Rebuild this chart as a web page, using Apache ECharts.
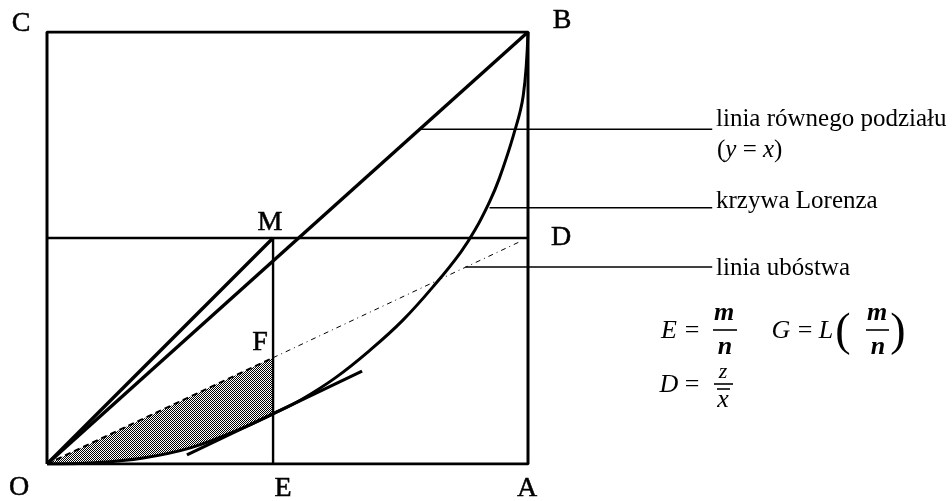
<!DOCTYPE html>
<html>
<head>
<meta charset="utf-8">
<script src="https://cdn.jsdelivr.net/npm/echarts@6/dist/echarts.min.js"></script>
<style>
html, body { margin: 0; padding: 0; background: #fff; }
#chart { width: 952px; height: 501px; }
</style>
</head>
<body>
<div id="chart"></div>
<script>
// krzywa Lorenza (udzialy 0..1)
var lorenzX = [0, 0.1, 0.2, 0.3, 0.4, 0.47, 0.53, 0.6, 0.67, 0.74, 0.81, 0.86, 0.89, 0.92, 0.94, 0.97, 0.99, 1];
var lorenzY = [0, 0.003, 0.014, 0.038, 0.08, 0.116, 0.15, 0.2, 0.262, 0.333, 0.42, 0.49, 0.542, 0.607, 0.66, 0.762, 0.852, 1];
var pointE = 0.47;          // E = m/n
var levelD = 0.523;         // D = z / x sr.
var pointF = 0.246;         // F na linii ubostwa
var povertyEnd = [0.98, 0.513];
var tangentStart = [0.291, 0.021];
var tangentEnd = [0.655, 0.215];
var leaderEnd = 1.383;
var leaderRows = [[0.775, 0.775], [0.92, 0.593], [0.87, 0.456]];
var xMax = 1.4;

var chart = echarts.init(document.getElementById('chart'));

function pts(xs, ys) {
    var out = [];
    for (var i = 0; i < xs.length; i++) out.push([xs[i], ys[i]]);
    return out;
}

// kropkowany wzor pola O-F-G
var pat = document.createElement('canvas');
pat.width = 2; pat.height = 2;
var pc = pat.getContext('2d');
pc.fillStyle = '#fff'; pc.fillRect(0, 0, 2, 2);
pc.fillStyle = '#000'; pc.fillRect(0, 0, 1, 1); pc.fillRect(1, 1, 1, 1);

function seg(data, width, type, extra) {
    var s = {
        type: 'line', data: data, symbol: 'none', silent: true,
        lineStyle: { color: '#000', width: width, type: type || 'solid' }
    };
    for (var k in extra) s[k] = extra[k];
    return s;
}

var series = [
    // pole pod OF wypelnione wzorem, potem zakryte biela pod krzywa
    seg([[0, 0], [pointE, pointF]], 0, 'solid', { areaStyle: { color: { image: pat, repeat: 'repeat' }, opacity: 1 } }),
    seg(pts(lorenzX, lorenzY), 0, 'solid', { smooth: 0.4, areaStyle: { color: '#fff', opacity: 1 } }),
    // kwadrat OACB
    seg([[0, 0], [1, 0], [1, 1], [0, 1], [0, 0]], 3),
    seg([[0, levelD], [1, levelD]], 2.4),
    seg([[pointE, 0], [pointE, levelD]], 2.4),
    seg([[0, 0], [1, 1]], 3.4),
    seg([[0, 0], [pointE, levelD]], 3.4),
    seg([[0, 0], [pointE, pointF]], 2, [6, 4]),
    seg([[pointE, pointF], povertyEnd], 1, [5, 4, 1, 4]),
    seg([tangentStart, tangentEnd], 3.2),
    seg(pts(lorenzX, lorenzY), 3, 'solid', { smooth: 0.4 })
];
leaderRows.forEach(function (r) {
    series.push(seg([[r[0], r[1]], [leaderEnd, r[1]]], 1.4));
});

var serif = 'Liberation Serif, Times New Roman, serif';
function txt(t, x, y, size, style, weight, heavy) {
    var s = {
        text: t, fill: '#000',
        align: 'center', verticalAlign: 'middle',
        textAlign: 'center', textVerticalAlign: 'middle',
        font: (style || 'normal') + ' ' + (weight || 'normal') + ' ' + size + 'px ' + serif
    };
    if (heavy) { s.stroke = '#000'; s.lineWidth = heavy; }
    return { type: 'text', x: x, y: y, silent: true, style: s };
}
function ltxt(t, x, y, size) {
    var g = txt(t, x, y, size);
    g.style.align = 'left'; g.style.textAlign = 'left';
    g.style.rich = { i: { fontStyle: 'italic', fontSize: size, fontFamily: serif } };
    return g;
}
function bar(x1, y, x2) {
    return { type: 'line', silent: true, shape: { x1: x1, y1: y, x2: x2, y2: y }, style: { stroke: '#000', lineWidth: 1.6 } };
}

var graphics = [
    txt('C', 21, 24, 28, 0, 0, 0.5), txt('B', 562, 21, 28, 0, 0, 0.5), txt('M', 270, 223, 28, 0, 0, 0.5),
    txt('D', 561, 238, 28, 0, 0, 0.5), txt('F', 260, 343, 28, 0, 0, 0.5), txt('G', 293, 427, 28, 0, 0, 0.5),
    txt('O', 19, 488, 28, 0, 0, 0.5), txt('E', 283, 489, 28, 0, 0, 0.5), txt('A', 527, 489, 28, 0, 0, 0.5),
    ltxt('linia równego podziału', 716, 119, 25),
    ltxt('({i|y} = {i|x})', 717, 150, 25),
    ltxt('krzywa Lorenza', 716, 201, 25),
    ltxt('linia ubóstwa', 716, 268, 25),
    txt('E', 669, 331, 26, 'italic'), txt('=', 692, 331, 26),
    txt('m', 724, 313, 26, 'italic', 'bold'), bar(713, 330, 737), txt('n', 725, 347, 26, 'italic', 'bold'),
    txt('G', 781, 331, 26, 'italic'), txt('=', 805, 331, 26), txt('L', 826, 331, 26, 'italic'),
    txt('(', 843, 333, 46), txt('m', 877, 313, 26, 'italic', 'bold'), bar(866, 330, 889),
    txt('n', 878, 347, 26, 'italic', 'bold'), txt(')', 898, 333, 46),
    txt('D', 669, 385, 26, 'italic'), txt('=', 692, 385, 26),
    txt('z', 723, 372, 22, 'italic'), bar(714, 384, 733),
    txt('x', 723, 400, 26, 'italic'), bar(717, 389, 730)
];

chart.setOption({
    animation: false,
    backgroundColor: '#fff',
    grid: { left: 47, top: 32, width: 481 * xMax, height: 432 },
    xAxis: {
        type: 'value', min: 0, max: xMax,
        axisLine: { show: false }, axisTick: { show: false }, axisLabel: { show: false }, splitLine: { show: false }
    },
    yAxis: {
        type: 'value', min: 0, max: 1,
        axisLine: { show: false }, axisTick: { show: false }, axisLabel: { show: false }, splitLine: { show: false }
    },
    series: series,
    graphic: graphics
});
</script>
</body>
</html>
